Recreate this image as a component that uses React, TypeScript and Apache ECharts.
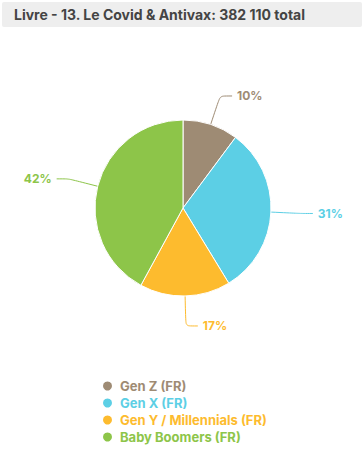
import React, { useEffect, useRef } from "react";
import * as echarts from "echarts";

const titleText = "Livre - 13. Le Covid & Antivax: 382 110 total";
const categories = ["Gen Z (FR)", "Gen X (FR)", "Gen Y / Millennials (FR)", "Baby Boomers (FR)"];
const values = [38900, 118900, 63600, 160710];
const colors = ["#9e8b74", "#5ccfe5", "#fdbb2e", "#8dc549"];

export default function App() {
  const ref = useRef<HTMLDivElement>(null);
  useEffect(() => {
    document.body.style.margin = "0";
    const chart = echarts.init(ref.current!, null, { renderer: "svg" });
    const font = "Inter, 'Open Sans', sans-serif";
    chart.setOption({
      animation: false,
      textStyle: { fontFamily: font },
      graphic: [
        {
          type: "rect",
          shape: { x: 2, y: 2, width: 360, height: 25, r: 2 },
          style: { fill: "#eeeeee" },
        },
        {
          type: "text",
          x: 14,
          y: 14,
          style: {
            text: titleText,
            fill: "#444444",
            font: `bold 14px ${font}`,
            verticalAlign: "middle",
          },
        },
      ],
      legend: {
        orient: "vertical",
        left: 101,
        top: 379,
        height: 78,
        padding: 0,
        itemWidth: 11,
        itemHeight: 11,
        itemGap: 3,
        icon: "circle",
        data: categories.map((c, i) => ({
          name: c,
          textStyle: { color: colors[i], fontWeight: "bold", fontSize: 13, fontFamily: font, lineHeight: 14, padding: [0, 0, 0, 2] },
        })),
      },
      series: [
        {
          type: "pie",
          center: [183, 208],
          radius: 88,
          startAngle: 90,
          clockwise: true,
          data: categories.map((c, i) => ({
            name: c,
            value: values[i],
            itemStyle: { color: colors[i] },
          })),
          itemStyle: { borderColor: "#ffffff", borderWidth: 1 },
          label: {
            formatter: (p: any) => Math.round(p.percent) + "%",
            color: "inherit",
            fontWeight: "bold",
            fontSize: 12,
            fontFamily: font,
          },
          labelLine: { length: 30, length2: 12, smooth: 0.2, lineStyle: { width: 1 } },
        },
      ],
    });
    return () => chart.dispose();
  }, []);
  return <div ref={ref} style={{ width: 364, height: 457 }} />;
}
